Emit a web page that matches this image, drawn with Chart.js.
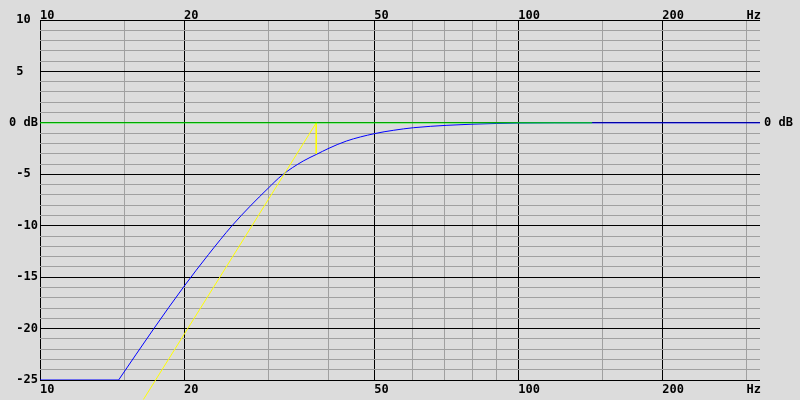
<!DOCTYPE html>
<html>
<head>
<meta charset="utf-8">
<script src="https://cdn.jsdelivr.net/npm/chart.js@4.4.0/dist/chart.umd.min.js"></script>
<style>
  html, body { margin: 0; padding: 0; background: #dcdcdc; }
  canvas { display: block; }
</style>
</head>
<body>
<canvas id="response" width="800" height="400"></canvas>
<script>
// Grid: frequency ticks (Hz) and which of them are heavy lines / labelled
const freqTicks = [10, 15, 20, 30, 40, 50, 60, 70, 80, 90, 100, 150, 200, 300];
const freqMajor = [10, 20, 50, 100, 200];
const freqLabels = {10: '10', 20: '20', 50: '50', 100: '100', 200: '200', 300: 'Hz'};

// Level axis labels (padded so they line up like the original)
const levelLabels = {10: '10 ', 5: '5  ', 0: '0 dB', '-5': '-5 ', '-10': '-10', '-15': '-15', '-20': '-20', '-25': '-25'};

// Target (green)
const targetFreq = [10, 142.6];
const targetLevel = [0, 0];

// Slope marker (yellow)
const slopeFreq = [16.45, 37.8, 37.8];
const slopeLevel = [-26.9, 0, -3.0];

// Response (blue): clipped floor, then the curve
const floorFreq = [10, 14.6];
const floorLevel = [-25, -25];
const respFreq = [14.6, 17.3, 20, 22.5, 25.2, 27.5, 30, 32, 35.5, 37.9, 40, 43.7, 50, 54.9, 60.4, 70.9, 80, 90, 100, 142, 320];
const respLevel = [-25, -20, -15.9, -12.8, -10.0, -8.1, -6.35, -5.12, -3.71, -3.05, -2.51, -1.77, -1.05, -0.72, -0.47, -0.24, -0.13, -0.06, -0.02, 0, 0];

const pts = (xs, ys) => xs.map((x, i) => ({x: x, y: ys[i]}));

const monoFont = {family: '"DejaVu Sans Mono", monospace', size: 12, weight: 'bold', lineHeight: 0.9};

function setFreqTicks(scale) {
    scale.ticks = freqTicks.map(v => ({value: v}));
}

const ctx = document.getElementById('response').getContext('2d');
new Chart(ctx, {
    type: 'line',
    data: {
        datasets: [
            {
                data: pts(targetFreq, targetLevel),
                borderColor: '#00ff00',
                borderWidth: 1,
                pointRadius: 0
            },
            {
                data: pts(slopeFreq, slopeLevel),
                borderColor: '#ffff00',
                borderWidth: 1,
                pointRadius: 0,
                clip: false
            },
            {
                data: pts(respFreq, respLevel),
                borderColor: '#0000ff',
                borderWidth: 1,
                pointRadius: 0,
                cubicInterpolationMode: 'monotone'
            },
            {
                data: pts(floorFreq, floorLevel),
                borderColor: '#0000ff',
                borderWidth: 1,
                pointRadius: 0
            }
        ]
    },
    options: {
        responsive: false,
        animation: false,
        layout: { padding: 0 },
        plugins: {
            legend: { display: false },
            tooltip: { enabled: false }
        },
        scales: {
            x: {
                type: 'logarithmic',
                position: 'bottom',
                min: 10,
                max: 320,
                afterBuildTicks: setFreqTicks,
                afterFit: s => { s.height = 20; },
                border: { display: false },
                grid: {
                    drawTicks: false,
                    lineWidth: 1,
                    color: c => freqMajor.includes(c.tick.value) ? '#000000' : '#a0a0a0'
                },
                ticks: {
                    autoSkip: false,
                    maxRotation: 0,
                    align: 'start',
                    padding: 4,
                    color: '#000',
                    font: monoFont,
                    callback: v => freqLabels[v] || ''
                }
            },
            xTop: {
                type: 'logarithmic',
                position: 'top',
                min: 10,
                max: 320,
                afterBuildTicks: setFreqTicks,
                afterFit: s => { s.height = 20; },
                border: { display: false },
                grid: { display: false, drawTicks: false },
                ticks: {
                    autoSkip: false,
                    maxRotation: 0,
                    align: 'start',
                    padding: -1,
                    color: '#000',
                    font: monoFont,
                    callback: v => freqLabels[v] || ''
                }
            },
            y: {
                type: 'linear',
                position: 'left',
                min: -25,
                max: 10,
                afterFit: s => { s.width = 40; },
                border: { display: false },
                grid: {
                    drawTicks: false,
                    lineWidth: 1,
                    color: c => c.tick.value % 5 === 0 ? '#000000' : '#a0a0a0'
                },
                ticks: {
                    stepSize: 1,
                    autoSkip: false,
                    padding: 2,
                    color: '#000',
                    font: monoFont,
                    callback: v => levelLabels[v] || ''
                }
            },
            yRight: {
                type: 'linear',
                position: 'right',
                min: -25,
                max: 10,
                afterFit: s => { s.width = 40; },
                border: { display: false },
                grid: { display: false, drawTicks: false },
                ticks: {
                    stepSize: 1,
                    autoSkip: false,
                    padding: 4,
                    color: '#000',
                    font: monoFont,
                    callback: v => v === 0 ? '0 dB' : ''
                }
            }
        }
    }
});
</script>
</body>
</html>
